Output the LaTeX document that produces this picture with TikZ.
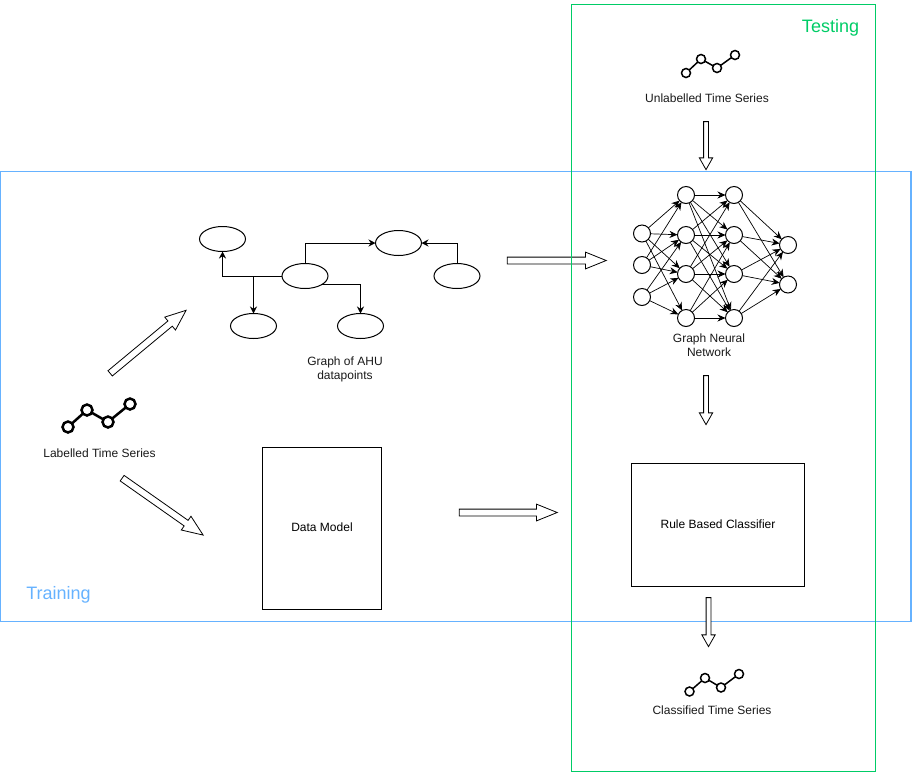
\documentclass[tikz,border=0pt]{standalone}
\usepackage{fontspec}
\setmainfont{Liberation Sans}
\usepackage{xcolor}
\usetikzlibrary{shapes,arrows,arrows.meta,positioning}

\definecolor{trainblue}{HTML}{66B2FF}
\definecolor{testgreen}{HTML}{00CC66}

\begin{document}
\begin{tikzpicture}[x=1pt,y=-1pt,line width=1pt,font=\fontsize{12}{14}\selectfont]

\tikzstyle{frame} = [rectangle, inner sep=0pt, outer sep=0pt, line width=1.1pt]
\tikzstyle{process} = [rectangle, draw=black, fill=white, inner sep=0pt, outer sep=0pt, align=center]
\tikzstyle{blob} = [ellipse, draw=black, fill=white, minimum width=46pt, minimum height=25pt, inner sep=0pt, outer sep=0pt]
\tikzstyle{neuron} = [circle, draw=black, fill=white, minimum size=17pt, inner sep=0pt, outer sep=0pt]
\tikzstyle{bigdot} = [circle, draw=black, fill=white, line width=2.5pt, minimum size=11pt, inner sep=0pt, outer sep=0pt]
\tikzstyle{smalldot} = [circle, draw=black, fill=white, line width=1.5pt, minimum size=9pt, inner sep=0pt, outer sep=0pt]
\tikzstyle{blockarrow} = [single arrow, draw=black, fill=white, line width=0.8pt, outer sep=0pt, inner xsep=0pt, inner ysep=3pt, minimum width=16pt, single arrow head extend=5pt, single arrow tip angle=44, single arrow head indent=0pt]
\tikzstyle{shortarrow} = [single arrow, draw=black, fill=white, line width=0.8pt, outer sep=0pt, inner xsep=0pt, inner ysep=2pt, minimum width=12.5pt, single arrow head extend=4.25pt, single arrow tip angle=59, single arrow head indent=0pt]
\tikzstyle{label} = [align=center, inner sep=0pt, text=black!90, font=\fontsize{12}{14}\selectfont]
\tikzstyle{arrow} = [->,>={Stealth[length=7pt,width=7pt]}]
\tikzstyle{synapse} = [line width=0.7pt,->,>={Stealth[length=8pt,width=7pt]}]

\useasboundingbox (0,0) rectangle (912,772);

% this one lies under the green line
\node (toNet) [blockarrow, minimum height=99pt] at (552.5,260.5) {};

% the two regions
\node (training) [frame, draw=trainblue, minimum width=910.5pt, minimum height=450pt] at (455.75,396.5) {};
\node (testing) [frame, draw=testgreen, minimum width=304pt, minimum height=767pt] at (723.5,388) {};
\node (traintext) [text=trainblue, font=\fontsize{18}{20}\selectfont] at (58.5,594.5) {Training};
\node (testtext) [text=testgreen, font=\fontsize{18}{20}\selectfont] at (830.5,27.5) {Testing};

% graph of datapoints
\node (ahu) [blob] at (305,276) {};
\node (upleft) [blob] at (222.5,239) {};
\node (upright) [blob] at (398.5,243) {};
\node (farright) [blob] at (457,276) {};
\node (lowleft) [blob] at (253.5,326) {};
\node (lowright) [blob] at (360.5,326) {};
\node (graphtext) [label] at (345,369) {Graph of AHU\\datapoints};

\draw [arrow] (ahu.west) -| (upleft.south);
\draw [arrow] (ahu.west) -| (lowleft.north);
\draw [arrow] (ahu.north) |- (upright.west);
\draw [arrow] (farright.north) |- (upright.east);
\draw [arrow] (ahu.south east) -| (lowright.north);

% network
\foreach \i/\y in {1/233.5,2/265,3/297}
  \node (ina\i) [neuron] at (642,\y) {};
\foreach \i/\y in {1/195,2/235,3/274,4/318} {
  \node (hida\i) [neuron] at (686,\y) {};
  \node (hidb\i) [neuron] at (734,\y) {};
}
\foreach \i/\y in {1/245,2/284.5}
  \node (out\i) [neuron] at (788,\y) {};

\foreach \i/\j in {1/1,1/2,1/3,1/4,2/1,2/2,2/3,3/2,3/3,3/4}
  \draw [synapse] (ina\i) -- (hida\j);
\foreach \i/\j in {1/1,1/2,1/3,1/4,2/1,2/2,2/3,2/4,3/1,3/2,3/3,3/4,4/2,4/3,4/4}
  \draw [synapse] (hida\i) -- (hidb\j);
\foreach \i in {1,2,3,4}
  \foreach \j in {1,2}
    \draw [synapse] (hidb\i) -- (out\j);

\node (nettext) [label] at (709,345) {Graph Neural\\Network};

% time series
\node (la) [bigdot] at (68,427) {};
\node (lb) [bigdot] at (87,410) {};
\node (lc) [bigdot] at (108,422) {};
\node (ld) [bigdot] at (130,404) {};
\draw [line width=2.5pt] (la) -- (lb) -- (lc) -- (ld);
\node (labelled) [label] at (99.5,453.5) {Labelled Time Series};

\node (ua) [smalldot] at (686,73) {};
\node (ub) [smalldot] at (701,59) {};
\node (uc) [smalldot] at (717,68) {};
\node (ud) [smalldot] at (735,55) {};
\draw [line width=1.5pt] (ua) -- (ub) -- (uc) -- (ud);
\node (unlabelled) [label] at (707,98) {Unlabelled Time Series};

\node (ca) [smalldot] at (689.5,691.5) {};
\node (cb) [smalldot] at (705,678) {};
\node (cc) [smalldot] at (721,687.5) {};
\node (cd) [smalldot] at (739,674) {};
\draw [line width=1.5pt] (ca) -- (cb) -- (cc) -- (cd);
\node (classified) [label] at (712,710) {Classified Time Series};

% boxes
\node (datamodel) [process, minimum width=119.5pt, minimum height=162pt] at (322,528) {\raisebox{2pt}{Data Model}};
\node (rulebased) [process, minimum width=173pt, minimum height=122.5pt] at (718,525) {\raisebox{2.5pt}{Rule Based Classifier}};

% block arrows
\node (toGraph) [blockarrow, minimum height=98.7pt, rotate=39.7] at (144.9,344.5) {};
\node (toModel) [blockarrow, minimum height=99pt, rotate=-35.1] at (159.2,504.2) {};
\node (toRule) [blockarrow, minimum height=98pt] at (504,512.5) {};
\node (toTop) [shortarrow, minimum height=48pt, rotate=-90] at (706,143.5) {};
\node (toClass) [shortarrow, minimum height=49pt, rotate=-90] at (706,398) {};
\node (toEnd) [shortarrow, minimum height=49pt, rotate=-90] at (708.5,620) {};

\end{tikzpicture}
\end{document}
